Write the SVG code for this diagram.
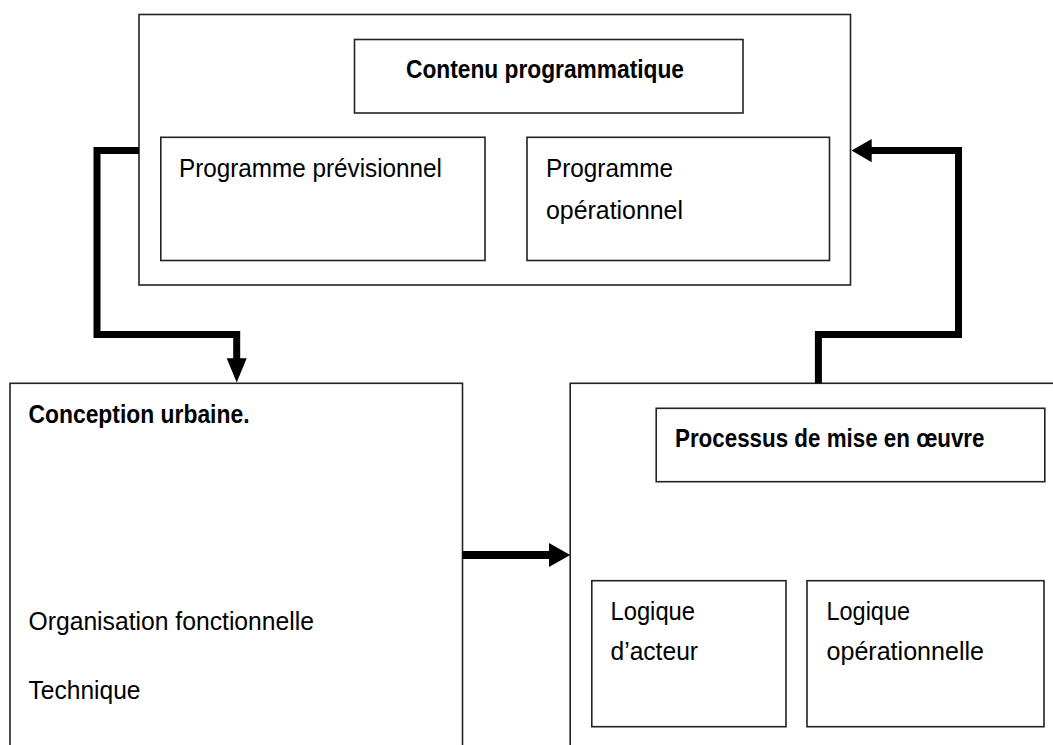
<svg xmlns="http://www.w3.org/2000/svg" width="1053" height="745" viewBox="0 0 1053 745">
<style>
.box{fill:#fff;stroke:#222;stroke-width:1.6}
.t{font-family:"Liberation Sans",Arial,sans-serif;font-size:26px;fill:#000}
.b{font-weight:bold;font-size:25px}
.c{fill:none;stroke:#000;stroke-width:7;stroke-linejoin:miter}
.h{fill:#000}
</style>
<rect width="1053" height="745" fill="#fff"/>
<g id="contenu-group">
<rect class="box" x="139" y="14.5" width="711.5" height="270.5"/>
</g>
<g id="contenu-programmatique">
<rect class="box" x="354.5" y="39.5" width="388.5" height="73.5"/>
<text class="t b" x="406" y="77.5" textLength="278" lengthAdjust="spacingAndGlyphs">Contenu programmatique</text>
</g>
<g id="programme-previsionnel">
<rect class="box" x="160.8" y="137.3" width="324.2" height="123.2"/>
<text class="t" x="179" y="176.5" textLength="263" lengthAdjust="spacingAndGlyphs">Programme prévisionnel</text>
</g>
<g id="programme-operationnel">
<rect class="box" x="527" y="137.3" width="302.5" height="123.2"/>
<text class="t" x="546" y="176.5" textLength="127" lengthAdjust="spacingAndGlyphs">Programme</text>
<text class="t" x="546" y="219" textLength="137" lengthAdjust="spacingAndGlyphs">opérationnel</text>
</g>
<g id="conception-urbaine">
<rect class="box" x="10" y="383.3" width="452.5" height="380"/>
<text class="t b" x="28.5" y="422.5" textLength="221" lengthAdjust="spacingAndGlyphs">Conception urbaine.</text>
<text class="t" x="28.5" y="630" textLength="285.5" lengthAdjust="spacingAndGlyphs">Organisation fonctionnelle</text>
<text class="t" x="28.5" y="699" textLength="112" lengthAdjust="spacingAndGlyphs">Technique</text>
</g>
<g id="mise-en-oeuvre-group">
<rect class="box" x="570.2" y="383.3" width="500" height="380"/>
</g>
<g id="processus">
<rect class="box" x="656.2" y="408.3" width="388.6" height="73.4"/>
<text class="t b" x="675" y="447" textLength="309.5" lengthAdjust="spacingAndGlyphs">Processus de mise en œuvre</text>
</g>
<g id="logique-acteur">
<rect class="box" x="591.8" y="580.7" width="194.2" height="146"/>
<text class="t" x="610.5" y="620" textLength="84.5" lengthAdjust="spacingAndGlyphs">Logique</text>
<text class="t" x="610.5" y="660" textLength="87.5" lengthAdjust="spacingAndGlyphs">d’acteur</text>
</g>
<g id="logique-operationnelle">
<rect class="box" x="807" y="580.7" width="237" height="146"/>
<text class="t" x="826.5" y="620" textLength="83.5" lengthAdjust="spacingAndGlyphs">Logique</text>
<text class="t" x="826.5" y="660" textLength="157.5" lengthAdjust="spacingAndGlyphs">opérationnelle</text>
</g>
<g id="connectors">
<polyline class="c" points="139,150.4 97,150.4 97,334.5 236.7,334.5 236.7,360"/>
<polygon class="h" points="226.7,358.3 246.7,358.3 236.7,382.5"/>
<polyline class="c" points="818.4,383.3 818.4,334.5 958.5,334.5 958.5,150.6 868,150.6"/>
<polygon class="h" points="851.5,150.6 871.7,139 871.7,162.2"/>
<line class="c" x1="462.5" y1="555" x2="552" y2="555" style="stroke-width:8"/>
<polygon class="h" points="549,543 549,567 570.2,555"/>
</g>
</svg>
